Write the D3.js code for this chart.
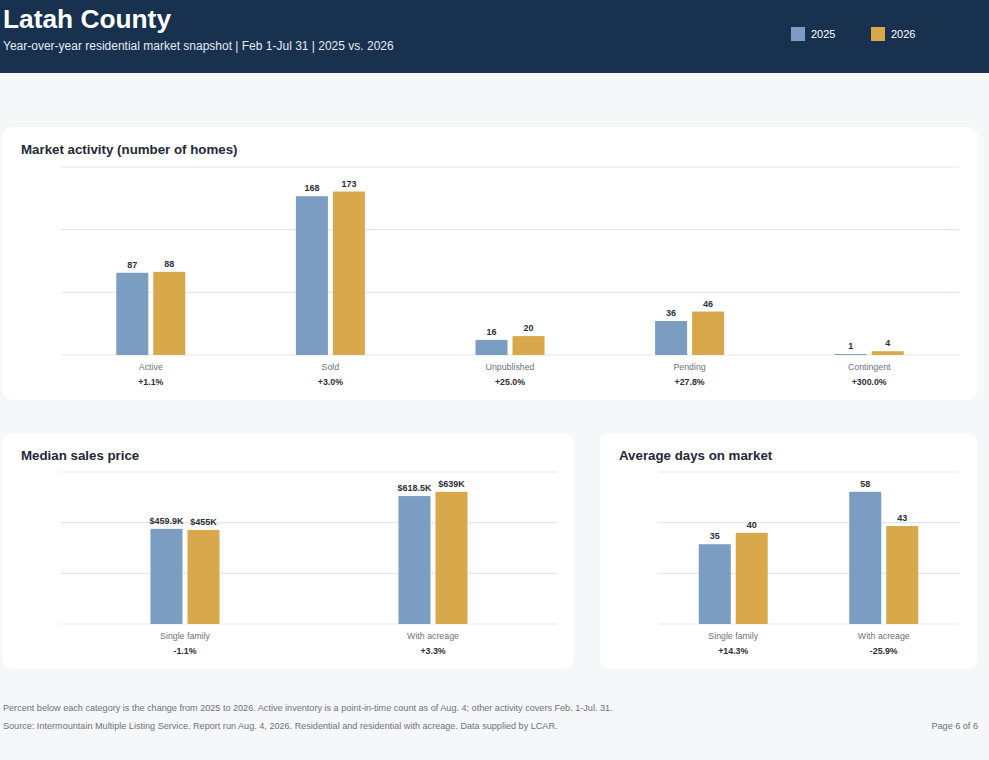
<!DOCTYPE html>
<html>
<head>
<meta charset="utf-8">
<script src="https://cdn.jsdelivr.net/npm/d3@7"></script>
<style>
  html, body { margin: 0; padding: 0; background: #f6f7f9; }
  svg { display: block; font-family: "Liberation Sans", Arial, Helvetica, sans-serif; }
</style>
</head>
<body>
<svg id="chart" width="989" height="760"></svg>
<script>
// ---- Data ----
const seriesNames = ["2025", "2026"];
const activityCats = ["Active", "Sold", "Unpublished", "Pending", "Contingent"];
const activity2025 = [87, 168, 16, 36, 1];
const activity2026 = [88, 173, 20, 46, 4];
const activityChange = ["+1.1%", "+3.0%", "+25.0%", "+27.8%", "+300.0%"];

const priceCats = ["Single family", "With acreage"];
const price2025 = [459.9, 618.5]; // $K
const price2026 = [455, 639];     // $K
const priceChange = ["-1.1%", "+3.3%"];

const domCats = ["Single family", "With acreage"];
const dom2025 = [35, 58];
const dom2026 = [40, 43];
const domChange = ["+14.3%", "-25.9%"];

const titleText = "Latah County";
const subtitleText = "Year-over-year residential market snapshot | Feb 1-Jul 31 | 2025 vs. 2026";
const footNote = "Percent below each category is the change from 2025 to 2026. Active inventory is a point-in-time count as of Aug. 4; other activity covers Feb. 1-Jul. 31.";
const sourceNote = "Source: Intermountain Multiple Listing Service. Report run Aug. 4, 2026. Residential and residential with acreage. Data supplied by LCAR.";
const pageNote = "Page 6 of 6";

// ---- Styles ----
const colors = { "2025": "#7a9dc1", "2026": "#d8a84b" };
const svg = d3.select("#chart");

svg.append("rect").attr("x", 0).attr("y", 0).attr("width", 989).attr("height", 760).attr("fill", "#f6f7f9");

// Header
svg.append("rect").attr("x", 0).attr("y", 0).attr("width", 989).attr("height", 73).attr("fill", "#17314f");
svg.append("text").attr("x", 3).attr("y", 27.5).attr("fill", "#ffffff")
  .attr("font-size", 26.3).attr("font-weight", "bold").text(titleText);
svg.append("text").attr("x", 3).attr("y", 49.5).attr("fill", "#e6ebf2")
  .attr("font-size", 12).text(subtitleText);

// Legend
const legend = svg.append("g");
seriesNames.forEach((s, i) => {
  const lx = 791 + i * 80;
  legend.append("rect").attr("x", lx).attr("y", 27).attr("width", 14).attr("height", 14).attr("fill", colors[s]);
  legend.append("text").attr("x", lx + 20).attr("y", 38).attr("fill", "#ffffff")
    .attr("font-size", 11).text(s);
});

function drawPanel(opts) {
  const { x, y, w, h, title, cats, v1, v2, changes, fmt, plotTop, plotBottom, padL, padR } = opts;
  const g = svg.append("g").attr("transform", `translate(${x},${y})`);
  g.append("rect").attr("width", w).attr("height", h).attr("rx", 10).attr("ry", 10).attr("fill", "#ffffff");
  g.append("text").attr("x", 19).attr("y", 26.5).attr("fill", "#1f2937")
    .attr("font-size", 13.3).attr("font-weight", "bold").text(title);

  const xScale = d3.scaleBand().domain(cats).range([padL, w - padR]).padding(0);
  const inner = d3.scaleBand().domain(seriesNames).range([-34.5, 34.5]).paddingInner(5 / 37);
  const maxV = d3.max(v1.concat(v2)) * 1.15;
  const yScale = d3.scaleLinear().domain([0, maxV]).range([plotBottom, plotTop]);

  const gridVals = d3.range(4).map(i => maxV * i / 3);
  g.append("g").selectAll("line").data(gridVals).join("line")
    .attr("x1", padL).attr("x2", w - padR)
    .attr("y1", d => yScale(d)).attr("y2", d => yScale(d))
    .attr("stroke", "#e3e7ed").attr("stroke-width", 1.2);

  const rows = cats.map((c, i) => ({ cat: c, vals: [ { s: "2025", v: v1[i] }, { s: "2026", v: v2[i] } ], change: changes[i] }));

  const grp = g.append("g").selectAll("g").data(rows).join("g")
    .attr("transform", d => `translate(${xScale(d.cat) + xScale.bandwidth() / 2},0)`);

  grp.selectAll("rect").data(d => d.vals).join("rect")
    .attr("x", d => inner(d.s)).attr("width", inner.bandwidth())
    .attr("y", d => yScale(d.v)).attr("height", d => yScale(0) - yScale(d.v))
    .attr("fill", d => colors[d.s]);

  grp.selectAll("text.val").data(d => d.vals).join("text").attr("class", "val")
    .attr("x", d => inner(d.s) + inner.bandwidth() / 2).attr("y", d => yScale(d.v) - 5)
    .attr("text-anchor", "middle").attr("font-size", 9).attr("font-weight", "bold")
    .attr("fill", "#2a2f38").text(d => fmt(d.v));

  grp.append("text").attr("x", 0).attr("y", plotBottom + 15).attr("text-anchor", "middle")
    .attr("font-size", 8.8).attr("fill", "#6b7280").text(d => d.cat);
  grp.append("text").attr("x", 0).attr("y", plotBottom + 30).attr("text-anchor", "middle")
    .attr("font-size", 8.8).attr("font-weight", "bold").attr("fill", "#2a2f38").text(d => d.change);
}

drawPanel({ x: 2, y: 127, w: 976, h: 273, title: "Market activity (number of homes)",
  cats: activityCats, v1: activity2025, v2: activity2026, changes: activityChange,
  fmt: v => d3.format("d")(v), plotTop: 40, plotBottom: 228, padL: 59, padR: 19 });

drawPanel({ x: 2, y: 433, w: 572, h: 236, title: "Median sales price",
  cats: priceCats, v1: price2025, v2: price2026, changes: priceChange,
  fmt: v => "$" + d3.format("~f")(v) + "K", plotTop: 39, plotBottom: 191, padL: 59, padR: 17 });

drawPanel({ x: 600, y: 433, w: 377, h: 236, title: "Average days on market",
  cats: domCats, v1: dom2025, v2: dom2026, changes: domChange,
  fmt: v => d3.format("d")(v), plotTop: 39, plotBottom: 191, padL: 58, padR: 18 });

// Footer
svg.append("text").attr("x", 3).attr("y", 711).attr("font-size", 9.1).attr("fill", "#6b7280").text(footNote);
svg.append("text").attr("x", 3).attr("y", 729).attr("font-size", 9.1).attr("fill", "#6b7280").text(sourceNote);
svg.append("text").attr("x", 978).attr("y", 729).attr("text-anchor", "end").attr("font-size", 9.1).attr("fill", "#6b7280").text(pageNote);
</script>
</body>
</html>
